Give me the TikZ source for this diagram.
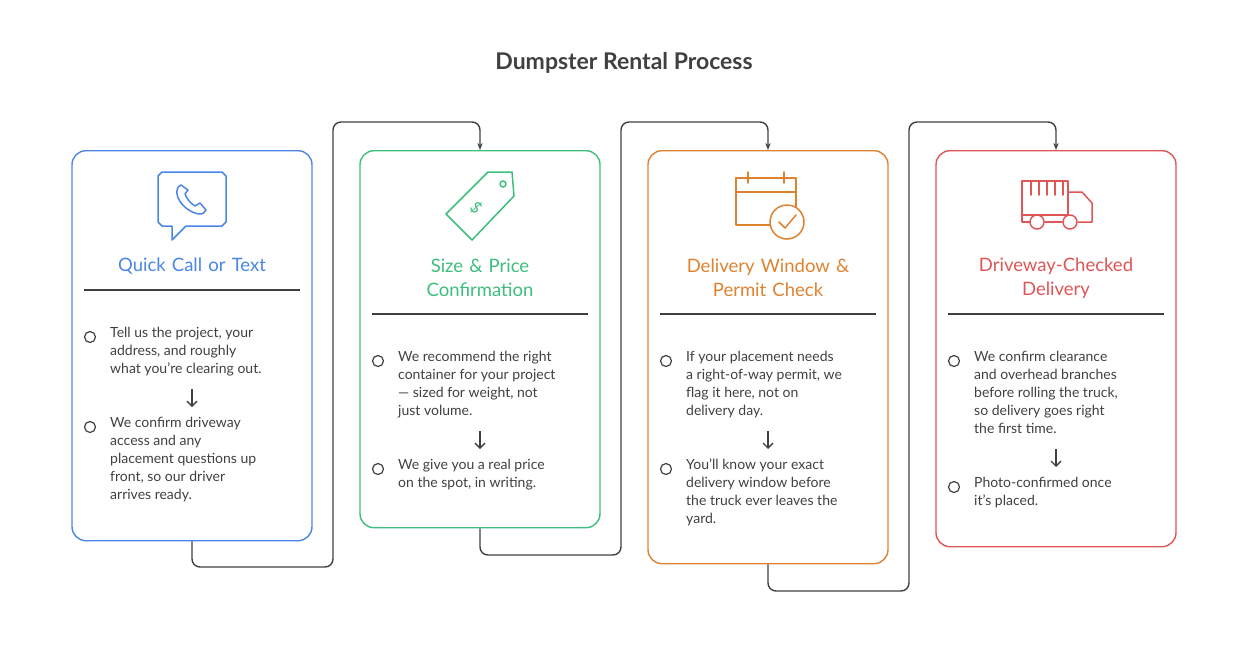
\documentclass[tikz,border=0pt]{standalone}
\usepackage{fontspec}
\setmainfont{Lato}
\usetikzlibrary{positioning,arrows.meta}
\definecolor{cblue}{HTML}{4A86E8}
\definecolor{cgreen}{HTML}{3DBE7C}
\definecolor{corange}{HTML}{DF8230}
\definecolor{cred}{HTML}{E05555}
\definecolor{ink}{HTML}{404040}
\tikzset{
  card/.style={draw=#1, line width=1.4pt, rounded corners=14pt, minimum width=240pt, anchor=north},
  head/.style={text=#1, font=\fontsize{18.5}{24}\selectfont, align=center, text width=220pt},
  item/.style={text=ink, font=\fontsize{14}{18}\selectfont, align=left, anchor=north west, inner sep=0pt},
  dot/.style={draw=ink, line width=1.2pt, circle, minimum size=11pt, inner sep=0pt},
  nextarrow/.style={-{Straight Barb[length=5pt,width=10pt]}, draw=ink, line width=1.3pt},
  conn/.style={draw=ink, line width=1.4pt, rounded corners=8pt},
  icon/.style={line width=1.5pt, line cap=round, line join=round}
}
\begin{document}
\begin{tikzpicture}[x=1pt,y=-1pt]
\useasboundingbox (0,0) rectangle (1248,662);
\node[text=ink, font=\bfseries\fontsize{23}{26}\selectfont] (title) at (624,63) {Dumpster Rental Process};
% cards
\node[card=cblue, minimum height=390pt] (c1) at (192,150) {};
\node[card=cgreen, minimum height=377pt] (c2) at (480,150) {};
\node[card=corange, minimum height=413pt] (c3) at (768,150) {};
\node[card=cred, minimum height=396pt] (c4) at (1056,150) {};
% headings
\node[head=cblue] (h1) at (192,266) {Quick Call or Text};
\node[head=cgreen] (h2) at (480,278) {Size \& Price\\Confirmation};
\node[head=corange] (h3) at (768,278) {Delivery Window \&\\Permit Check};
\node[head=cred] (h4) at (1056,278) {Driveway-Checked\\Delivery};
\draw[ink, line width=1.2pt] (84,290) -- (300,290);
\foreach \x in {372,660,948} \draw[ink, line width=1.2pt] (\x,314) -- (\x+216,314);
% card 1
\node[dot] (d1a) at (90,337) {};
\node[item] (t1a) at (110,327) {Tell us the project, your\\address, and roughly\\what you're clearing out.};
\node[dot] (d1b) at (90,427) {};
\node[item] (t1b) at (110,417) {We confirm driveway\\access and any\\placement questions up\\front, so our driver\\arrives ready.};
\draw[nextarrow] (192,389) -- (192,407);
% card 2
\node[dot] (d2a) at (378,361) {};
\node[item] (t2a) at (398,351) {We recommend the right\\container for your project\\— sized for weight, not\\just volume.};
\node[dot] (d2b) at (378,469) {};
\node[item] (t2b) at (398,459) {We give you a real price\\on the spot, in writing.};
\draw[nextarrow] (480,431) -- (480,449);
% card 3
\node[dot] (d3a) at (666,361) {};
\node[item] (t3a) at (686,351) {If your placement needs\\a right-of-way permit, we\\flag it here, not on\\delivery day.};
\node[dot] (d3b) at (666,469) {};
\node[item] (t3b) at (686,459) {You'll know your exact\\delivery window before\\the truck ever leaves the\\yard.};
\draw[nextarrow] (768,431) -- (768,449);
% card 4
\node[dot] (d4a) at (954,361) {};
\node[item] (t4a) at (974,351) {We confirm clearance\\and overhead branches\\before rolling the truck,\\so delivery goes right\\the first time.};
\node[dot] (d4b) at (954,487) {};
\node[item] (t4b) at (974,477) {Photo-confirmed once\\it's placed.};
\draw[nextarrow] (1056,449) -- (1056,467);
% connectors
\draw[conn, -{Stealth[length=7pt]}] (c1.south) |- (333,567) -- (333,122) -| (c2.north);
\draw[conn, -{Stealth[length=7pt]}] (c2.south) |- (621,555) -- (621,122) -| (c3.north);
\draw[conn, -{Stealth[length=7pt]}] (c3.south) |- (909,591) -- (909,122) -| (c4.north);
% icons
\draw[icon, cblue] (162,172) -- (222,172) -- (226,176) -- (226,222) -- (222,226) -- (186,226) -- (172,240) -- (172,226) -- (162,226) -- (158,222) -- (158,176) -- cycle;
\draw[icon, cblue] (181,185) .. controls (174,188) and (176,200) .. (186,208) .. controls (195,215) and (204,216) .. (206,210) -- (200,203) -- (195,206) .. controls (190,203) and (187,199) .. (185,194) -- (188,190) -- cycle;
\draw[icon, cgreen] (488,172) -- (512,172) -- (514,196) -- (472,240) -- (446,214) -- cycle;
\draw[icon, cgreen] (503,184) circle (3pt);
\node[text=cgreen, rotate=-45, font=\fontsize{16}{16}\selectfont] (dol) at (476,208) {\$};
\draw[icon, corange] (736,178) rectangle (796,225);
\draw[icon, corange] (736,192) -- (796,192);
\draw[icon, corange] (748,172) -- (748,183) (784,172) -- (784,183);
\draw[icon, corange, fill=white] (787,222) circle (17pt);
\draw[icon, corange] (779,222) -- (785,228) -- (796,215);
\draw[icon, cred] (1022,181) rectangle (1068,215);
\foreach \x in {1031,1039,1047,1055,1063} \draw[icon, cred] (\x,181) -- (\x,195);
\draw[icon, cred] (1068,192) -- (1082,192) -- (1092,203) -- (1092,222) -- (1078,222);
\draw[icon, cred] (1022,215) -- (1022,222) -- (1030,222) (1045,222) -- (1062,222);
\draw[icon, cred] (1037,222) circle (7pt) (1070,222) circle (7pt);
\end{tikzpicture}
\end{document}
